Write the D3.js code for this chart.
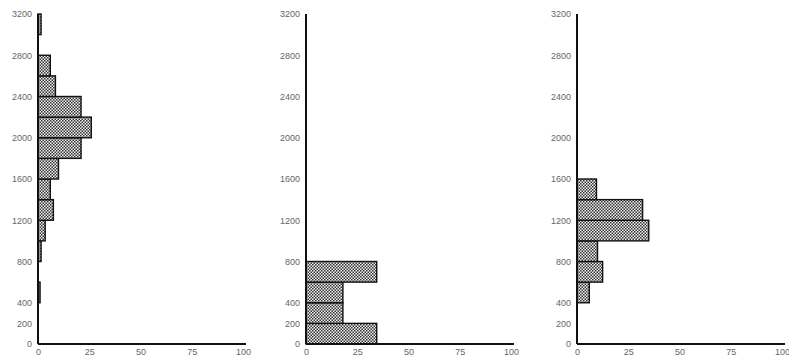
<!DOCTYPE html>
<html>
<meta charset="utf-8">
<script src="https://d3js.org/d3.v7.min.js"></script>
<style>
  body { margin: 0; background: #fff; }
  .tick text { font-family: "Liberation Sans", sans-serif; font-size: 9px; fill: #666; }
</style>
<body>
<div id="chart"></div>
<script>
// bin lower edges (each bin is 200 units tall)
var binStarts = [0, 200, 400, 600, 800, 1000, 1200, 1400, 1600, 1800, 2000, 2200, 2400, 2600, 2800, 3000];
var binSize = 200;

// percentages per bin
var leftValues   = [0, 0, 1, 0, 1.5, 3.5, 7.5, 6, 10, 21, 26, 21, 8.5, 6, 0, 1.5];
var middleValues = [34.5, 18, 18, 34.5, 0, 0, 0, 0, 0, 0, 0, 0, 0, 0, 0, 0];
var rightValues  = [0, 0, 6, 12.5, 10, 35, 32, 9.5, 0, 0, 0, 0, 0, 0, 0, 0];

var yTicks = [0, 200, 400, 800, 1200, 1600, 2000, 2400, 2800, 3200];
var xTicks = [0, 25, 50, 75, 100];

var panels = [
  { values: leftValues,   left: 38 },
  { values: middleValues, left: 306 },
  { values: rightValues,  left: 577 }
];

var W = 789, H = 362;
var plotW = 205;

var svg = d3.select("#chart").append("svg")
  .attr("width", W)
  .attr("height", H);

// stipple fill used for the bars
var pat = svg.append("defs").append("pattern")
  .attr("id", "dots")
  .attr("patternUnits", "userSpaceOnUse")
  .attr("width", 3)
  .attr("height", 3);
pat.append("rect").attr("width", 3).attr("height", 3).attr("fill", "#f0f0f0");
pat.append("rect").attr("x", 0).attr("y", 0).attr("width", 1.5).attr("height", 1.5).attr("fill", "#333");
pat.append("rect").attr("x", 1.5).attr("y", 1.5).attr("width", 1.5).attr("height", 1.5).attr("fill", "#333");

var y = d3.scaleLinear().domain([0, 3200]).range([344, 14]);

panels.forEach(function (p) {
  var x = d3.scaleLinear().domain([0, 100]).range([0, plotW]);
  var g = svg.append("g").attr("transform", "translate(" + p.left + ",0)");

  var data = binStarts.map(function (b, i) { return { lo: b, v: p.values[i] }; })
    .filter(function (d) { return d.v > 0; });

  g.selectAll("rect.bar")
    .data(data)
    .enter()
    .append("rect")
    .attr("class", "bar")
    .attr("x", x(0))
    .attr("y", function (d) { return y(d.lo + binSize); })
    .attr("width", function (d) { return x(d.v) - x(0); })
    .attr("height", function (d) { return y(d.lo) - y(d.lo + binSize); })
    .attr("fill", "url(#dots)")
    .attr("stroke", "#111")
    .attr("stroke-width", 1.4);

  // axes
  var ya = g.append("g")
    .call(d3.axisLeft(y).tickValues(yTicks).tickSize(0).tickPadding(6).tickFormat(d3.format("d")));
  ya.select(".domain").remove();

  var xa = g.append("g")
    .attr("transform", "translate(0," + y(0) + ")")
    .call(d3.axisBottom(x).tickValues(xTicks).tickSize(0).tickPadding(5));
  xa.select(".domain").remove();

  g.append("line")
    .attr("x1", 0).attr("x2", 0)
    .attr("y1", y(3200)).attr("y2", y(0))
    .attr("stroke", "#111").attr("stroke-width", 2);
  g.append("line")
    .attr("x1", 0).attr("x2", x(100) + 3)
    .attr("y1", y(0)).attr("y2", y(0))
    .attr("stroke", "#111").attr("stroke-width", 2);
});
</script>
</body>
</html>
